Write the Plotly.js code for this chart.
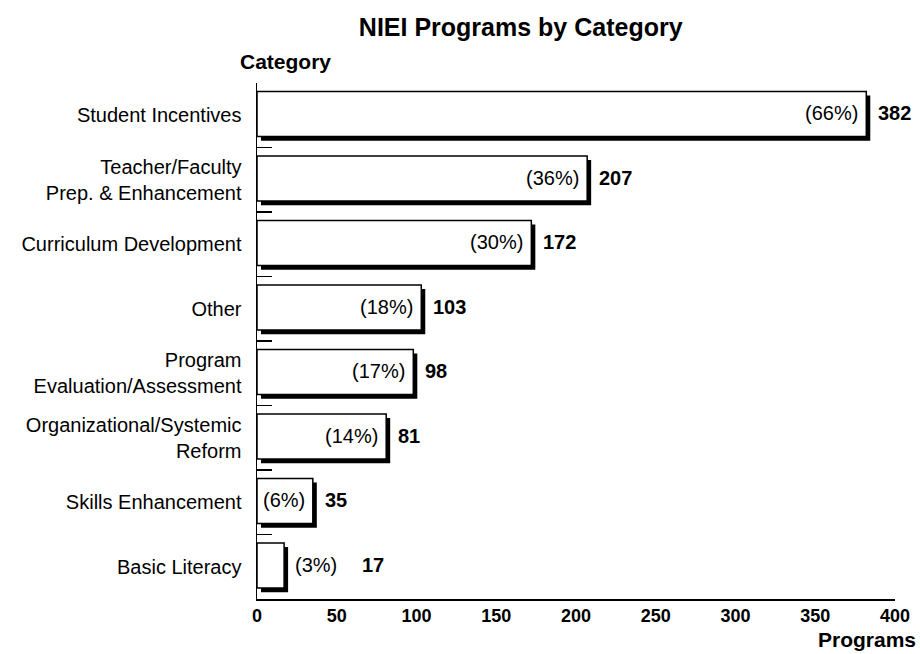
<!DOCTYPE html>
<html>
<head>
<meta charset="utf-8">
<script src="https://cdn.plot.ly/plotly-3.0.1.min.js"></script>
<style>html,body{margin:0;padding:0;background:#fff;}#chart{width:920px;height:654px;}</style>
</head>
<body>
<div id="chart"></div>
<script>
const categories = [
  "Student Incentives",
  "Teacher/Faculty<br>Prep. & Enhancement",
  "Curriculum Development",
  "Other",
  "Program<br>Evaluation/Assessment",
  "Organizational/Systemic<br>Reform",
  "Skills Enhancement",
  "Basic Literacy"
];
const programs = [382, 207, 172, 103, 98, 81, 35, 17];
const percents = ["(66%)", "(36%)", "(30%)", "(18%)", "(17%)", "(14%)", "(6%)", "(3%)"];
const xTicks = [0, 50, 100, 150, 200, 250, 300, 350, 400];

const FONT = "Liberation Sans, Arial, Helvetica, sans-serif";
const NARROW = "Liberation Sans Narrow, Arial Narrow, Liberation Sans, Arial, sans-serif";

const shadow = {
  type: "bar", orientation: "h",
  y: categories, x: programs, base: 2.5,
  width: 0.7, offset: -0.305,
  marker: {color: "#000", line: {width: 0}},
  hoverinfo: "skip", showlegend: false
};
const bars = {
  type: "bar", orientation: "h",
  y: categories, x: programs,
  width: 0.7, offset: -0.37,
  marker: {color: "#fff", line: {color: "#000", width: 1.5}},
  showlegend: false
};

const annotations = [];
programs.forEach((v, i) => {
  const outside = v < 20;
  annotations.push({
    x: v, y: categories[i], xref: "x", yref: "y",
    text: percents[i], showarrow: false,
    xanchor: outside ? "left" : "right",
    xshift: outside ? 9 : -6, yshift: 2,
    font: {family: FONT, size: 20, color: "#000"}
  });
  annotations.push({
    x: v, y: categories[i], xref: "x", yref: "y",
    text: "<b>" + v + "</b>", showarrow: false,
    xanchor: "left", xshift: outside ? 76 : 10, yshift: 2,
    font: {family: FONT, size: 20, color: "#000"}
  });
});
annotations.push({
  xref: "paper", yref: "paper", x: 0.044, y: 1, xanchor: "center", yanchor: "bottom", yshift: 8,
  text: "<b>Category</b>", showarrow: false,
  font: {family: FONT, size: 21, color: "#000"}
});
annotations.push({
  xref: "paper", yref: "paper", x: 0.956, y: 0, xanchor: "center", yanchor: "top", yshift: -27,
  text: "<b>Programs</b>", showarrow: false,
  font: {family: FONT, size: 21, color: "#000"}
});

const layout = {
  width: 920, height: 654,
  margin: {l: 257, r: 25, t: 83, b: 55},
  paper_bgcolor: "#fff", plot_bgcolor: "#fff",
  barmode: "overlay",
  title: {
    text: "<b>NIEI Programs by Category</b>",
    xref: "container", yref: "container",
    x: 0.566, xanchor: "center", y: 0.959, yanchor: "middle",
    font: {family: FONT, size: 25, color: "#000"}
  },
  xaxis: {
    range: [0, 400], tickvals: xTicks, ticktext: xTicks.map(String),
    showgrid: false, zeroline: false,
    showline: true, linecolor: "#000", linewidth: 1.5,
    ticks: "", tickfont: {family: NARROW, size: 18, color: "#000", weight: "bold"},
    fixedrange: true
  },
  yaxis: {
    type: "category", categoryorder: "array", categoryarray: categories,
    range: [7.5, -0.5],
    showgrid: false, zeroline: false,
    showline: true, linecolor: "#000", linewidth: 1.5,
    ticks: "inside", tickson: "boundaries", ticklen: 15, tickwidth: 1.5, tickcolor: "#000",
    ticklabelstandoff: 10,
    tickfont: {family: FONT, size: 20, color: "#000"},
    fixedrange: true
  },
  annotations: annotations
};

Plotly.newPlot("chart", [shadow, bars], layout, {displayModeBar: false, staticPlot: true});
</script>
</body>
</html>
